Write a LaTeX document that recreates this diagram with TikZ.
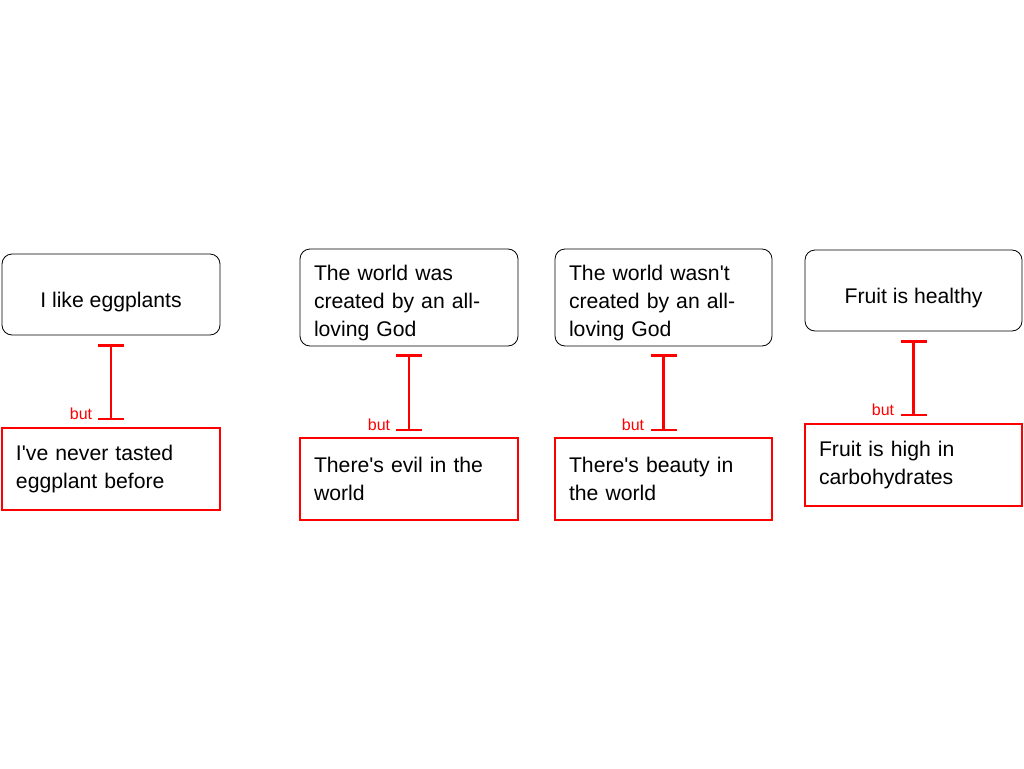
\documentclass[tikz,border=0pt]{standalone}
\usepackage{fontspec}
\newfontfamily\arialf{Liberation Sans}
\usetikzlibrary{arrows.meta}
\definecolor{cred}{RGB}{255,0,0}
\tikzset{
  bodyfont/.style={font=\arialf\fontsize{21.2pt}{28.3pt}\selectfont},
  claim/.style={draw=black, line width=0.8pt, rounded corners=10pt, inner sep=0pt, outer sep=0pt,
    minimum width=218pt, bodyfont},
  lift/.style={execute at begin node={\leavevmode\rule{0pt}{#1}}},
  objection/.style={draw=cred, line width=2.5pt, inner sep=0pt, outer sep=0pt,
    minimum width=218pt, minimum height=82pt, text width=190pt, align=left, bodyfont},
  conn/.style={draw=cred, line width=2.5pt, {Bar[width=26pt]}-{Bar[width=26pt]}},
  butlbl/.style={text=cred, inner sep=0pt, font=\arialf\fontsize{16pt}{18pt}\selectfont}
}
\begin{document}
\begin{tikzpicture}[x=1pt,y=-1pt]
\useasboundingbox (0,0) rectangle (1024,768);
% column 1
\node[claim, minimum height=81pt, align=center, lift=31pt] (b1) at (111,294.5) {I like eggplants};
\node[objection] (r1) at (111,469) {I've never tasted\\eggplant before};
\draw[conn] ([yshift=-9pt]b1.south) -- ([yshift=8pt]r1.north);
\node[butlbl] (but1) at (81,414) {but};
% column 2
\node[claim, minimum height=97pt, text width=190pt, align=left, lift=26pt] (b2) at (409,297.5) {The world was\\created by an all-\\loving God};
\node[objection] (r2) at (409,479) {There's evil in the\\world};
\draw[conn] ([yshift=-8pt]b2.south) -- ([yshift=7pt]r2.north);
\node[butlbl] (but2) at (379,425) {but};
% column 3
\node[claim, minimum height=97pt, minimum width=217pt, text width=189pt, align=left, lift=26pt] (b3) at (663.5,297.5) {The world wasn't\\created by an all-\\loving God};
\node[objection, minimum width=217pt, text width=189pt] (r3) at (663.5,479) {There's beauty in\\the world};
\draw[conn] ([yshift=-8pt]b3.south) -- ([yshift=7pt]r3.north);
\node[butlbl] (but3) at (633,425) {but};
% column 4
\node[claim, minimum height=81pt, minimum width=217pt, align=center, lift=31pt] (b4) at (913.5,290.5) {Fruit is healthy};
\node[objection, minimum width=217pt, text width=189pt] (r4) at (913.5,465) {Fruit is high in\\carbohydrates};
\draw[conn] ([yshift=-9pt]b4.south) -- ([yshift=8pt]r4.north);
\node[butlbl] (but4) at (883,410) {but};
\end{tikzpicture}
\end{document}
